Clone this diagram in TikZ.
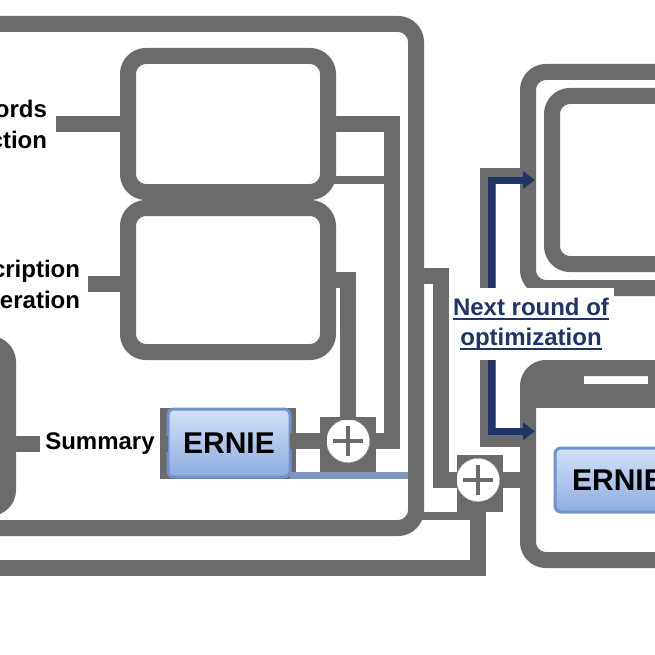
\documentclass[tikz,border=0pt]{standalone}
\usepackage{fontspec}
\setmainfont{Liberation Sans}
\usetikzlibrary{arrows.meta,backgrounds,calc}
\definecolor{bandgray}{HTML}{6B6B6B}
\definecolor{ernieblue}{HTML}{6F93D0}
\definecolor{ernietop}{HTML}{D3E1F7}
\definecolor{erniebot}{HTML}{8CACE0}
\definecolor{optnavy}{HTML}{1F3566}
\definecolor{linkblue}{HTML}{7D98BD}
\newcommand{\ulword}[1]{\leavevmode\setbox0\hbox{#1}\rlap{\rule[-5pt]{\wd0}{2pt}}\box0}
\tikzset{
  band/.style={draw=bandgray, line width=16pt},
  thinband/.style={draw=bandgray, line width=8pt},
  boxframe/.style={band, rounded corners=18pt, inner sep=0pt, outer sep=0pt},
  lbl/.style={fill=white, font=\bfseries\fontsize{24}{31}\selectfont, inner sep=0pt, outer sep=0pt},
  ernie/.style={draw=ernieblue, line width=3pt, rounded corners=6pt, top color=ernietop,
    bottom color=erniebot, font=\bfseries\fontsize{30}{36}\selectfont, inner sep=0pt, outer sep=0pt},
  plusnode/.style={circle, fill=white, draw=gray!45, densely dashed, line width=0.8pt,
    minimum size=43pt, inner sep=0pt, outer sep=0pt,
    path picture={\draw[bandgray, line width=4pt, solid]
      ([xshift=-15pt]path picture bounding box.center) -- ([xshift=15pt]path picture bounding box.center)
      ([yshift=-15pt]path picture bounding box.center) -- ([yshift=15pt]path picture bounding box.center);}},
  nextarrow/.style={draw=optnavy, line width=7pt, -{Triangle[length=12pt,width=17pt]}, shorten >=-7pt},
}
\begin{document}
\begin{tikzpicture}[x=1pt, y=-1pt]
  \useasboundingbox (0,0) rectangle (655,655);
  \node[boxframe, minimum width=456pt, minimum height=504pt] (outer) at (188,276) {};
  \node[boxframe, minimum width=200pt, minimum height=136pt] (kw) at (228,124) {};
  \node[boxframe, minimum width=200pt, minimum height=144pt] (ds) at (228,280) {};
  \node[boxframe, minimum width=108pt, minimum height=164pt] (src) at (-46,426) {};
  \node[boxframe, minimum width=232pt, minimum height=216pt] (opt) at (644,180) {};
  \node[boxframe, minimum width=228pt, minimum height=168pt] (optin) at (666,180) {};
  \node[boxframe, minimum width=252pt, minimum height=192pt] (low) at (654,464) {};
  \fill[bandgray] ($(low.north west)+(8,8)$) rectangle ++(48,32);
  \fill[bandgray] ($(low.north west)+(24,16)$) rectangle ($(low.north east)+(0,40)$);
  \fill[bandgray] ($(low.north west)+(120,8)$) rectangle ($(low.north east)+(0,16)$);

  \node[lbl, align=right, anchor=east, minimum height=72pt, inner xsep=9pt] (kwlbl) at (56,124) {ords\\ction};
  \node[lbl, align=right, anchor=east, minimum height=72pt, inner xsep=8pt] (dslbl) at (88,284) {cription\\eration};
  \node[lbl, minimum width=120pt, minimum height=40pt] (sum) at (100,444) {Summary};
  \node[ernie, minimum width=122pt, minimum height=68pt] (e1) at (229,443) {ERNIE};
  \node[plusnode] (p1) at (348,441) {};
  \node[plusnode] (p2) at (478,480) {};
  \node[ernie, minimum width=126pt, minimum height=64pt] (e2) at (618,480) {ERNIE};
  \node[lbl, text=optnavy, align=center, minimum width=166pt, minimum height=72pt,
    font=\bfseries\fontsize{24}{30}\selectfont] (next) at (531,324) {\ulword{Next round of}\\\ulword{optimization}};

  \begin{scope}[on background layer]
    \fill[bandgray] ($(e1.north west)+(-8,-1)$) rectangle ($(e1.south east)+(6,2)$);
    \fill[bandgray] ($(p1)+(-28,-24)$) rectangle ($(p1)+(28,31)$);
    \fill[bandgray] ($(p2)+(-21,-25)$) rectangle ($(p2)+(25,32)$);
  \end{scope}

  \draw[band] (kwlbl.east) -- (kw.west);
  \draw[band] (dslbl.east) -- (dslbl.east -| ds.west);
  \draw[band] (src.east |- sum.west) -- (sum.west);
  \draw[band] (sum.east) -- (sum.east -| e1.west);
  \draw[band] (p1.west) -- (p1.west -| e1.east);
  \draw[band] (kw.east) -| ($(p1.east)+(22,0)$) -- (p1.east);
  \draw[thinband] ($(kw.south east)+(0,-12)$) -- ++(60,0);
  \draw[band] (ds.east) -| (p1.north);
  \coordinate (b0) at ($(e1.south east)+(0,-1.5)$);
  \draw[draw=linkblue, line width=7pt, shorten >=8pt] (b0) -- (b0 -| outer.east);
  \draw[band] (outer.east) -| ($(p2.west)+(-16,0)$) -- (p2.west);
  \coordinate (d0) at (0,568);
  \draw[band] (d0) -| (p2.south);
  \draw[thinband] ($(outer.south east)+(0,-12)$) -- ++(62,0);
  \draw[band] (p2.east) -- (p2.east -| low.west);

  \draw[band] ($(next.north west)+(40,0)$) |- ($(opt.west)+(0,-4)$);
  \draw[band] ($(next.south west)+(40,0)$) |- ($(low.north west)!0.37!(low.south west)$);
  \draw[nextarrow] ($(next.north west)+(43,0)$) |- (opt.west);
  \draw[nextarrow] ($(next.south west)+(43,0)$) |- ($(low.north west)!0.33!(low.south west)$);
\end{tikzpicture}
\end{document}
